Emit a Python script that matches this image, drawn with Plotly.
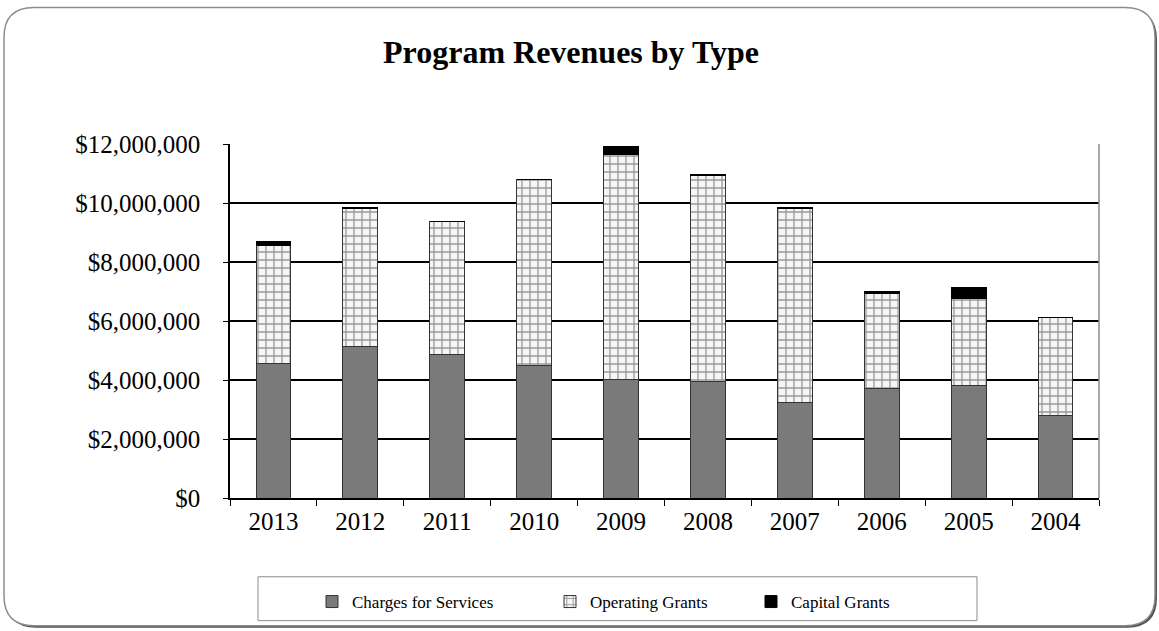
import plotly.graph_objects as go

years = ["2013", "2012", "2011", "2010", "2009", "2008", "2007", "2006", "2005", "2004"]
charges = [4550000, 5150000, 4850000, 4480000, 4030000, 3950000, 3230000, 3710000, 3810000, 2810000]
operating = [4000000, 4680000, 4510000, 6330000, 7630000, 6980000, 6570000, 3210000, 2950000, 3310000]
capital = [150000, 30000, 0, 0, 240000, 40000, 60000, 80000, 390000, 0]
tick_vals = [0, 2000000, 4000000, 6000000, 8000000, 10000000, 12000000]

W, H = 1159, 631
L, R, T, B = 230, 1099, 144, 499


def px(x):
    return (x - L) / (R - L)


def py(y):
    return (B - y) / (B - T)


def rounded(x0, y0, x1, y1, r):
    rx = r / (R - L)
    ry = r / (B - T)
    a0, a1 = px(x0), px(x1)
    b0, b1 = py(y1), py(y0)  # bottom, top
    return (f"M {a0+rx},{b1} L {a1-rx},{b1} Q {a1},{b1} {a1},{b1-ry} "
            f"L {a1},{b0+ry} Q {a1},{b0} {a1-rx},{b0} L {a0+rx},{b0} "
            f"Q {a0},{b0} {a0},{b0+ry} L {a0},{b1-ry} Q {a0},{b1} {a0+rx},{b1} Z")


font = "Liberation Serif, Times New Roman, serif"

fig = go.Figure()
fig.add_bar(x=years, y=charges, name="Charges for Services",
            marker=dict(color="#7a7a7a", line=dict(color="#333333", width=1)),
            width=0.4, legend="legend")
fig.add_bar(x=years, y=operating, name="Operating Grants",
            marker=dict(color="white", line=dict(color="#333333", width=1),
                        pattern=dict(shape="+", fgcolor="#3c3c3c", bgcolor="#f6f6f6",
                                     size=8, solidity=0.3)),
            width=0.4, legend="legend2")
fig.add_bar(x=years, y=capital, name="Capital Grants",
            marker=dict(color="#000000", line=dict(color="#000000", width=1)),
            width=0.4, legend="legend3")

shapes = [
    dict(type="path", xref="paper", yref="paper", path=rounded(6, 9, 1157, 629, 30),
         fillcolor="#555555", line=dict(width=0), layer="below"),
    dict(type="path", xref="paper", yref="paper", path=rounded(4, 7, 1155, 627, 30),
         fillcolor="white", line=dict(color="#8c8c8c", width=1.5), layer="below"),
    dict(type="line", xref="paper", yref="paper", x0=1, x1=1, y0=0, y1=1,
         line=dict(color="#8c8c8c", width=1.5)),
    dict(type="rect", xref="paper", yref="paper", x0=px(258), x1=px(977), y0=py(578), y1=py(622),
         line=dict(color="#8c8c8c", width=1), fillcolor="rgba(0,0,0,0)"),
]

legend_common = dict(orientation="h", yanchor="middle", y=py(602), xanchor="left",
                     font=dict(family=font, size=17, color="black"),
                     bgcolor="rgba(0,0,0,0)", borderwidth=0)

fig.update_layout(
    width=W, height=H,
    margin=dict(l=L, r=W - R, t=T, b=H - B),
    paper_bgcolor="white", plot_bgcolor="rgba(0,0,0,0)",
    barmode="stack", bargap=0.6,
    title=dict(text="<b>Program Revenues by Type</b>", x=571 / W, xanchor="center",
               y=1 - 52 / H, yanchor="middle", xref="container", yref="container",
               font=dict(family=font, size=32, color="black")),
    showlegend=True,
    legend=dict(x=px(352 - 40), **legend_common),
    legend2=dict(x=px(590 - 40), **legend_common),
    legend3=dict(x=px(791 - 40), **legend_common),
    shapes=shapes,
    font=dict(family=font, color="black"),
)
fig.update_xaxes(showline=True, linecolor="black", linewidth=1.5, ticks="outside",
                 tickson="boundaries", ticklen=6, tickcolor="black",
                 tickfont=dict(family=font, size=25, color="black"), showgrid=False)
fig.update_yaxes(range=[0, 12000000], tickvals=tick_vals, tickformat="$,.0f",
                 showline=True, linecolor="black", linewidth=1.5, ticks="outside",
                 ticklen=5, tickcolor="black", showgrid=True, gridcolor="black",
                 gridwidth=1.5, zeroline=False, ticklabelstandoff=18,
                 tickfont=dict(family=font, size=25, color="black"))

fig.write_html("out.html", config={"displayModeBar": False},
               post_script="document.body.style.margin='0';document.body.style.overflow='hidden';")
